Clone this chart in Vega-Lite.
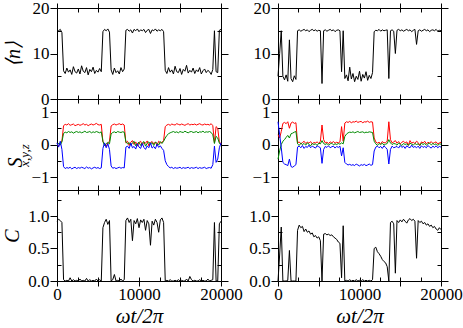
{
"$schema": "https://vega.github.io/schema/vega-lite/v6.json",
"padding": {"left": 1, "top": -2, "right": 0, "bottom": 0},
"config": {
  "font": "Liberation Serif",
  "view": {"stroke": "black", "strokeWidth": 1},
  "axis": {"grid": false, "domain": false, "labelFont": "Liberation Serif", "labelFontSize": 17, "labelColor": "black", "tickColor": "black", "tickWidth": 1, "titleFont": "Liberation Serif", "titleFontSize": 20, "titleFontWeight": "normal", "titleColor": "black", "labelOverlap": false, "labelFlush": false}
},
"datasets": {
"L": [
{"t":0,"n":15.2,"x":0.02,"y":-0.03,"z":0.05,"c":0.92},
{"t":200,"n":15.0,"x":-0.05,"y":0.04,"z":-0.08,"c":0.95},
{"t":400,"n":15.3,"x":0.06,"y":-0.02,"z":0.10,"c":0.93},
{"t":600,"n":14.6,"x":0.1,"y":0.08,"z":-0.15,"c":0.9},
{"t":800,"n":6.2,"x":0.58,"y":0.34,"z":-0.68,"c":0.02},
{"t":1000,"n":5.6,"x":0.62,"y":0.38,"z":-0.74,"c":0.0},
{"t":1200,"n":6.8,"x":0.6,"y":0.36,"z":-0.71,"c":0.01},
{"t":1400,"n":5.9,"x":0.64,"y":0.4,"z":-0.73,"c":0.0},
{"t":1600,"n":6.4,"x":0.59,"y":0.37,"z":-0.7,"c":0.05},
{"t":1800,"n":5.4,"x":0.61,"y":0.39,"z":-0.75,"c":0.0},
{"t":2000,"n":7.1,"x":0.63,"y":0.35,"z":-0.72,"c":0.02},
{"t":2200,"n":6.0,"x":0.58,"y":0.38,"z":-0.7,"c":0.0},
{"t":2400,"n":5.7,"x":0.6,"y":0.4,"z":-0.74,"c":0.01},
{"t":2600,"n":6.6,"x":0.62,"y":0.37,"z":-0.71,"c":0.0},
{"t":2800,"n":5.5,"x":0.59,"y":0.39,"z":-0.73,"c":0.03},
{"t":3000,"n":7.3,"x":0.61,"y":0.36,"z":-0.7,"c":0.0},
{"t":3200,"n":6.1,"x":0.64,"y":0.38,"z":-0.72,"c":0.01},
{"t":3400,"n":5.8,"x":0.6,"y":0.41,"z":-0.74,"c":0.0},
{"t":3600,"n":6.9,"x":0.62,"y":0.37,"z":-0.69,"c":0.04},
{"t":3800,"n":5.3,"x":0.58,"y":0.38,"z":-0.73,"c":0.0},
{"t":4000,"n":6.5,"x":0.61,"y":0.4,"z":-0.71,"c":0.02},
{"t":4200,"n":6.0,"x":0.63,"y":0.36,"z":-0.75,"c":0.0},
{"t":4400,"n":7.0,"x":0.6,"y":0.39,"z":-0.72,"c":0.01},
{"t":4600,"n":5.6,"x":0.62,"y":0.37,"z":-0.7,"c":0.0},
{"t":4800,"n":6.3,"x":0.65,"y":0.4,"z":-0.73,"c":0.03},
{"t":5000,"n":5.9,"x":0.61,"y":0.38,"z":-0.71,"c":0.0},
{"t":5200,"n":6.7,"x":0.6,"y":0.36,"z":-0.74,"c":0.02},
{"t":5400,"n":6.0,"x":0.62,"y":0.39,"z":-0.72,"c":0.0},
{"t":5600,"n":14.8,"x":0.08,"y":0.1,"z":-0.12,"c":0.82},
{"t":5800,"n":15.3,"x":0.02,"y":-0.04,"z":0.05,"c":0.9},
{"t":6000,"n":15.0,"x":-0.06,"y":0.03,"z":-0.1,"c":0.95},
{"t":6200,"n":15.4,"x":0.05,"y":0.06,"z":0.02,"c":0.87},
{"t":6400,"n":14.7,"x":0.1,"y":0.02,"z":-0.15,"c":0.93},
{"t":6600,"n":6.4,"x":0.57,"y":0.33,"z":-0.66,"c":0.0},
{"t":6800,"n":5.4,"x":0.61,"y":0.37,"z":-0.73,"c":0.02},
{"t":7000,"n":6.8,"x":0.63,"y":0.39,"z":-0.71,"c":0.1},
{"t":7200,"n":5.8,"x":0.6,"y":0.36,"z":-0.74,"c":0.0},
{"t":7400,"n":6.2,"x":0.62,"y":0.4,"z":-0.72,"c":0.01},
{"t":7600,"n":5.5,"x":0.64,"y":0.38,"z":-0.7,"c":0.0},
{"t":7800,"n":6.9,"x":0.61,"y":0.37,"z":-0.73,"c":0.03},
{"t":8000,"n":6.0,"x":0.63,"y":0.39,"z":-0.71,"c":0.0},
{"t":8200,"n":6.6,"x":0.6,"y":0.38,"z":-0.72,"c":0.02},
{"t":8400,"n":15.1,"x":0.05,"y":0.08,"z":-0.08,"c":0.93},
{"t":8600,"n":15.3,"x":0.1,"y":0.02,"z":-0.05,"c":0.97},
{"t":8800,"n":14.9,"x":-0.03,"y":0.06,"z":-0.12,"c":0.9},
{"t":9000,"n":15.2,"x":0.07,"y":-0.02,"z":0.04,"c":0.95},
{"t":9200,"n":14.5,"x":0.12,"y":0.05,"z":-0.1,"c":0.62},
{"t":9400,"n":15.3,"x":0.0,"y":0.1,"z":-0.06,"c":0.93},
{"t":9600,"n":15.0,"x":0.08,"y":-0.04,"z":-0.14,"c":0.88},
{"t":9800,"n":15.4,"x":-0.05,"y":0.03,"z":0.02,"c":0.96},
{"t":10000,"n":14.8,"x":0.06,"y":0.07,"z":-0.08,"c":0.82},
{"t":10200,"n":15.2,"x":0.1,"y":-0.03,"z":-0.12,"c":0.94},
{"t":10400,"n":15.0,"x":-0.02,"y":0.05,"z":0.03,"c":0.9},
{"t":10600,"n":15.3,"x":0.07,"y":0.09,"z":-0.09,"c":0.95},
{"t":10800,"n":14.6,"x":0.04,"y":-0.05,"z":-0.15,"c":0.78},
{"t":11000,"n":15.1,"x":0.11,"y":0.04,"z":-0.04,"c":0.93},
{"t":11200,"n":15.3,"x":-0.04,"y":0.08,"z":-0.1,"c":0.88},
{"t":11400,"n":14.4,"x":0.06,"y":0.01,"z":0.05,"c":0.55},
{"t":11600,"n":15.2,"x":0.09,"y":0.06,"z":-0.11,"c":0.92},
{"t":11800,"n":15.0,"x":0.02,"y":-0.03,"z":-0.06,"c":0.86},
{"t":12000,"n":15.4,"x":0.08,"y":0.07,"z":-0.13,"c":0.95},
{"t":12200,"n":14.9,"x":-0.03,"y":0.04,"z":0.01,"c":0.9},
{"t":12400,"n":15.2,"x":0.1,"y":-0.02,"z":-0.09,"c":0.75},
{"t":12600,"n":15.0,"x":0.05,"y":0.09,"z":-0.04,"c":0.94},
{"t":12800,"n":15.3,"x":0.07,"y":0.03,"z":-0.12,"c":0.97},
{"t":13000,"n":14.8,"x":0.12,"y":0.1,"z":-0.18,"c":0.9},
{"t":13200,"n":6.3,"x":0.55,"y":0.2,"z":-0.5,"c":0.0},
{"t":13400,"n":5.6,"x":0.6,"y":0.28,"z":-0.62,"c":0.01},
{"t":13600,"n":6.9,"x":0.62,"y":0.33,"z":-0.68,"c":0.0},
{"t":13800,"n":5.9,"x":0.59,"y":0.36,"z":-0.72,"c":0.02},
{"t":14000,"n":6.4,"x":0.63,"y":0.38,"z":-0.7,"c":0.0},
{"t":14200,"n":5.5,"x":0.61,"y":0.4,"z":-0.74,"c":0.0},
{"t":14400,"n":7.2,"x":0.6,"y":0.37,"z":-0.71,"c":0.01},
{"t":14600,"n":6.0,"x":0.64,"y":0.39,"z":-0.73,"c":0.0},
{"t":14800,"n":5.8,"x":0.62,"y":0.36,"z":-0.72,"c":0.02},
{"t":15000,"n":6.7,"x":0.6,"y":0.4,"z":-0.7,"c":0.0},
{"t":15200,"n":5.4,"x":0.63,"y":0.38,"z":-0.74,"c":0.01},
{"t":15400,"n":6.5,"x":0.61,"y":0.37,"z":-0.71,"c":0.0},
{"t":15600,"n":6.1,"x":0.59,"y":0.41,"z":-0.73,"c":0.0},
{"t":15800,"n":7.4,"x":0.62,"y":0.38,"z":-0.72,"c":0.03},
{"t":16000,"n":5.7,"x":0.64,"y":0.36,"z":-0.7,"c":0.0},
{"t":16200,"n":6.3,"x":0.6,"y":0.39,"z":-0.74,"c":0.07},
{"t":16400,"n":5.9,"x":0.62,"y":0.4,"z":-0.71,"c":0.02},
{"t":16600,"n":6.8,"x":0.61,"y":0.37,"z":-0.73,"c":0.0},
{"t":16800,"n":5.6,"x":0.63,"y":0.38,"z":-0.72,"c":0.01},
{"t":17000,"n":6.4,"x":0.6,"y":0.4,"z":-0.7,"c":0.0},
{"t":17200,"n":6.0,"x":0.62,"y":0.36,"z":-0.74,"c":0.0},
{"t":17400,"n":6.9,"x":0.64,"y":0.39,"z":-0.71,"c":0.02},
{"t":17600,"n":5.5,"x":0.61,"y":0.38,"z":-0.73,"c":0.0},
{"t":17800,"n":6.2,"x":0.6,"y":0.41,"z":-0.72,"c":0.01},
{"t":18000,"n":6.6,"x":0.63,"y":0.37,"z":-0.7,"c":0.0},
{"t":18200,"n":5.8,"x":0.61,"y":0.39,"z":-0.74,"c":0.0},
{"t":18400,"n":6.3,"x":0.62,"y":0.38,"z":-0.72,"c":0.03},
{"t":18600,"n":6.0,"x":0.6,"y":0.4,"z":-0.71,"c":0.0},
{"t":18800,"n":5.4,"x":0.64,"y":0.37,"z":-0.73,"c":0.01},
{"t":19000,"n":6.5,"x":0.58,"y":0.3,"z":-0.62,"c":0.02},
{"t":19200,"n":15.0,"x":0.05,"y":0.03,"z":-0.05,"c":0.9},
{"t":19400,"n":6.0,"x":0.55,"y":0.25,"z":-0.55,"c":0.0},
{"t":19600,"n":5.8,"x":0.5,"y":0.2,"z":-0.45,"c":0.0},
{"t":19800,"n":15.1,"x":0.08,"y":0.04,"z":-0.1,"c":0.88},
{"t":20000,"n":15.3,"x":0.02,"y":-0.02,"z":0.05,"c":0.92}
],
"R": [
{"t":0,"n":5.0,"x":0.3,"y":-0.45,"z":0.7,"c":0.0},
{"t":200,"n":10.0,"x":0.2,"y":-0.2,"z":0.3,"c":0.4},
{"t":400,"n":15.0,"x":0.4,"y":0.0,"z":-0.1,"c":0.83},
{"t":600,"n":5.0,"x":0.65,"y":0.1,"z":-0.55,"c":0.0},
{"t":800,"n":4.2,"x":0.68,"y":0.15,"z":-0.6,"c":0.0},
{"t":1000,"n":5.3,"x":0.64,"y":0.22,"z":-0.62,"c":0.0},
{"t":1200,"n":3.9,"x":0.7,"y":0.28,"z":-0.65,"c":0.01},
{"t":1400,"n":13.0,"x":0.5,"y":0.2,"z":-0.45,"c":0.47},
{"t":1600,"n":4.5,"x":0.66,"y":0.33,"z":-0.68,"c":0.0},
{"t":1800,"n":3.8,"x":0.69,"y":0.35,"z":-0.7,"c":0.0},
{"t":2000,"n":5.1,"x":0.65,"y":0.38,"z":-0.66,"c":0.0},
{"t":2200,"n":4.3,"x":0.67,"y":0.4,"z":-0.62,"c":0.0},
{"t":2400,"n":15.0,"x":0.05,"y":0.02,"z":-0.08,"c":0.78},
{"t":2600,"n":15.2,"x":0.08,"y":-0.03,"z":-0.05,"c":0.86},
{"t":2800,"n":14.9,"x":0.02,"y":0.04,"z":-0.1,"c":0.82},
{"t":3000,"n":15.1,"x":0.06,"y":0.0,"z":-0.03,"c":0.84},
{"t":3200,"n":15.3,"x":0.1,"y":0.03,"z":-0.12,"c":0.76},
{"t":3400,"n":15.0,"x":0.03,"y":-0.02,"z":-0.06,"c":0.8},
{"t":3600,"n":15.2,"x":0.07,"y":0.05,"z":-0.09,"c":0.75},
{"t":3800,"n":14.8,"x":0.04,"y":0.01,"z":-0.02,"c":0.77},
{"t":4000,"n":15.1,"x":0.09,"y":-0.04,"z":-0.1,"c":0.72},
{"t":4200,"n":15.3,"x":0.02,"y":0.03,"z":-0.05,"c":0.74},
{"t":4400,"n":15.0,"x":0.06,"y":0.0,"z":-0.08,"c":0.68},
{"t":4600,"n":15.2,"x":0.05,"y":0.02,"z":-0.11,"c":0.7},
{"t":4800,"n":14.9,"x":0.08,"y":-0.03,"z":-0.04,"c":0.66},
{"t":5000,"n":15.1,"x":0.03,"y":0.04,"z":-0.07,"c":0.68},
{"t":5200,"n":15.0,"x":0.1,"y":0.02,"z":-0.1,"c":0.62},
{"t":5400,"n":3.4,"x":0.6,"y":0.12,"z":-0.58,"c":0.0},
{"t":5600,"n":15.0,"x":0.15,"y":0.03,"z":-0.15,"c":0.72},
{"t":5800,"n":15.2,"x":0.05,"y":0.0,"z":-0.06,"c":0.73},
{"t":6000,"n":14.9,"x":0.07,"y":0.03,"z":-0.09,"c":0.71},
{"t":6200,"n":15.1,"x":0.03,"y":-0.02,"z":-0.04,"c":0.72},
{"t":6400,"n":15.3,"x":0.08,"y":0.02,"z":-0.1,"c":0.7},
{"t":6600,"n":15.0,"x":0.05,"y":0.04,"z":-0.07,"c":0.71},
{"t":6800,"n":15.2,"x":0.09,"y":-0.01,"z":-0.05,"c":0.68},
{"t":7000,"n":14.8,"x":0.04,"y":0.02,"z":-0.11,"c":0.66},
{"t":7200,"n":15.1,"x":0.07,"y":0.0,"z":-0.06,"c":0.64},
{"t":7400,"n":15.2,"x":0.05,"y":0.03,"z":-0.09,"c":0.6},
{"t":7600,"n":15.0,"x":0.08,"y":0.01,"z":-0.05,"c":0.58},
{"t":7800,"n":6.0,"x":0.55,"y":0.05,"z":-0.35,"c":0.05},
{"t":8000,"n":15.0,"x":0.1,"y":0.02,"z":-0.1,"c":0.85},
{"t":8200,"n":4.5,"x":0.66,"y":0.25,"z":-0.55,"c":0.0},
{"t":8400,"n":5.3,"x":0.7,"y":0.32,"z":-0.6,"c":0.01},
{"t":8600,"n":4.0,"x":0.68,"y":0.36,"z":-0.63,"c":0.0},
{"t":8800,"n":7.0,"x":0.71,"y":0.38,"z":-0.61,"c":0.02},
{"t":9000,"n":4.4,"x":0.67,"y":0.37,"z":-0.64,"c":0.0},
{"t":9200,"n":5.6,"x":0.7,"y":0.39,"z":-0.62,"c":0.01},
{"t":9400,"n":3.8,"x":0.69,"y":0.36,"z":-0.65,"c":0.0},
{"t":9600,"n":5.0,"x":0.72,"y":0.38,"z":-0.6,"c":0.02},
{"t":9800,"n":4.3,"x":0.68,"y":0.4,"z":-0.63,"c":0.0},
{"t":10000,"n":6.1,"x":0.7,"y":0.37,"z":-0.66,"c":0.01},
{"t":10200,"n":3.9,"x":0.71,"y":0.38,"z":-0.62,"c":0.0},
{"t":10400,"n":5.4,"x":0.67,"y":0.39,"z":-0.64,"c":0.02},
{"t":10600,"n":4.6,"x":0.7,"y":0.36,"z":-0.61,"c":0.0},
{"t":10800,"n":6.0,"x":0.69,"y":0.38,"z":-0.65,"c":0.01},
{"t":11000,"n":4.1,"x":0.72,"y":0.37,"z":-0.63,"c":0.0},
{"t":11200,"n":5.2,"x":0.68,"y":0.39,"z":-0.6,"c":0.01},
{"t":11400,"n":4.5,"x":0.7,"y":0.38,"z":-0.64,"c":0.0},
{"t":11600,"n":5.8,"x":0.69,"y":0.37,"z":-0.62,"c":0.02},
{"t":11800,"n":14.8,"x":0.2,"y":0.1,"z":-0.2,"c":0.5},
{"t":12000,"n":15.1,"x":0.08,"y":0.02,"z":-0.08,"c":0.52},
{"t":12200,"n":15.0,"x":0.04,"y":-0.03,"z":-0.05,"c":0.45},
{"t":12400,"n":15.3,"x":0.07,"y":0.03,"z":-0.1,"c":0.42},
{"t":12600,"n":14.9,"x":0.02,"y":0.0,"z":-0.06,"c":0.38},
{"t":12800,"n":15.2,"x":0.09,"y":0.04,"z":-0.12,"c":0.33},
{"t":13000,"n":15.0,"x":0.05,"y":-0.02,"z":-0.04,"c":0.3},
{"t":13200,"n":15.1,"x":0.06,"y":0.01,"z":-0.09,"c":0.28},
{"t":13400,"n":15.2,"x":0.1,"y":0.03,"z":-0.15,"c":0.22},
{"t":13600,"n":4.5,"x":0.7,"y":0.15,"z":-0.6,"c":0.0},
{"t":13800,"n":15.0,"x":0.15,"y":0.05,"z":-0.15,"c":0.9},
{"t":14000,"n":15.2,"x":0.05,"y":0.0,"z":-0.05,"c":0.92},
{"t":14200,"n":14.9,"x":0.08,"y":0.03,"z":-0.1,"c":0.88},
{"t":14400,"n":10.0,"x":0.12,"y":0.02,"z":-0.08,"c":0.12},
{"t":14600,"n":15.1,"x":0.04,"y":-0.02,"z":-0.06,"c":0.93},
{"t":14800,"n":15.3,"x":0.09,"y":0.04,"z":-0.11,"c":0.9},
{"t":15000,"n":15.0,"x":0.02,"y":0.01,"z":-0.03,"c":0.94},
{"t":15200,"n":15.2,"x":0.07,"y":-0.03,"z":-0.09,"c":0.91},
{"t":15400,"n":14.9,"x":0.1,"y":0.03,"z":-0.05,"c":0.95},
{"t":15600,"n":15.1,"x":0.05,"y":0.0,"z":-0.12,"c":0.92},
{"t":15800,"n":15.3,"x":0.08,"y":0.02,"z":-0.04,"c":0.89},
{"t":16000,"n":15.0,"x":-0.02,"y":-0.03,"z":-0.08,"c":0.94},
{"t":16200,"n":15.2,"x":0.12,"y":0.04,"z":-0.1,"c":0.96},
{"t":16400,"n":14.8,"x":0.04,"y":0.01,"z":-0.02,"c":0.93},
{"t":16600,"n":15.1,"x":0.07,"y":-0.02,"z":-0.09,"c":0.95},
{"t":16800,"n":15.3,"x":0.03,"y":0.03,"z":-0.06,"c":0.92},
{"t":17000,"n":12.0,"x":0.1,"y":0.0,"z":-0.1,"c":0.35},
{"t":17200,"n":15.0,"x":0.06,"y":0.02,"z":-0.05,"c":0.93},
{"t":17400,"n":15.2,"x":-0.03,"y":-0.03,"z":-0.12,"c":0.9},
{"t":17600,"n":14.9,"x":0.08,"y":0.04,"z":-0.04,"c":0.92},
{"t":17800,"n":15.1,"x":0.05,"y":0.0,"z":-0.09,"c":0.88},
{"t":18000,"n":15.3,"x":0.1,"y":0.03,"z":-0.06,"c":0.9},
{"t":18200,"n":15.0,"x":0.02,"y":-0.02,"z":-0.1,"c":0.86},
{"t":18400,"n":15.2,"x":0.07,"y":0.02,"z":-0.03,"c":0.88},
{"t":18600,"n":14.8,"x":0.04,"y":0.04,"z":-0.08,"c":0.84},
{"t":18800,"n":15.1,"x":0.09,"y":-0.01,"z":-0.11,"c":0.86},
{"t":19000,"n":15.2,"x":0.03,"y":0.03,"z":-0.05,"c":0.82},
{"t":19200,"n":15.0,"x":0.06,"y":0.0,"z":-0.09,"c":0.84},
{"t":19400,"n":15.3,"x":0.08,"y":0.02,"z":-0.04,"c":0.8},
{"t":19600,"n":14.9,"x":0.02,"y":-0.03,"z":-0.1,"c":0.78},
{"t":19800,"n":15.1,"x":0.05,"y":0.02,"z":-0.06,"c":0.82},
{"t":20000,"n":15.0,"x":0.07,"y":0.01,"z":-0.08,"c":0.79}
]
},
"spacing": 5,
"hconcat": [
{
"vconcat": [
{
"width": 164, "height": 91, "data": {"name": "L"},
"layer": [
{"mark": {"type": "line", "color": "black", "strokeWidth": 1},
 "encoding": {
  "x": {"field": "t", "type": "quantitative", "scale": {"domain": [0, 20000], "nice": false, "zero": false}, "axis": {"orient": "bottom", "values": [0,5000,10000,15000,20000], "tickSize": 5, "labels": false, "title": null}},
  "y": {"field": "n", "type": "quantitative", "scale": {"domain": [0, 20], "nice": false, "zero": false}, "axis": {"orient": "left", "values": [0,10,20], "tickSize": 7, "labelPadding": 1, "title": "⟨n⟩", "titleFontStyle": "italic", "titleX": -44, "titleY": 45.5, "titleAngle": 270, "titleAlign": "center", "titleBaseline": "middle"}}}},
{"mark": {"type": "line", "opacity": 0},
 "encoding": {
  "x": {"field": "t", "type": "quantitative", "axis": {"orient": "bottom", "values": [2500,5000,7500,10000,12500,15000,17500], "tickSize": 4, "offset": -4, "labels": false, "title": null}},
  "y": {"field": "n", "type": "quantitative", "axis": {"orient": "left", "values": [5,15], "tickSize": 4, "offset": -4, "labels": false, "title": null}}}},
{"mark": {"type": "line", "opacity": 0},
 "encoding": {
  "x": {"field": "t", "type": "quantitative", "axis": {"orient": "top", "values": [0,5000,10000,15000,20000], "tickSize": 5, "labels": false, "title": null}},
  "y": {"field": "n", "type": "quantitative", "axis": {"orient": "right", "values": [0,10,20], "tickSize": 7, "labels": false, "title": null}}}},
{"mark": {"type": "line", "opacity": 0},
 "encoding": {
  "x": {"field": "t", "type": "quantitative", "axis": {"orient": "top", "values": [2500,5000,7500,10000,12500,15000,17500], "tickSize": 4, "offset": -4, "labels": false, "title": null}},
  "y": {"field": "n", "type": "quantitative", "axis": {"orient": "right", "values": [5,15], "tickSize": 4, "offset": -4, "labels": false, "title": null}}}}
],
"resolve": {"axis": {"x": "independent", "y": "independent"}}
},
{
"width": 164, "height": 91, "data": {"name": "L"},
"layer": [
{"transform": [{"fold": ["x", "y", "z"], "as": ["comp", "val"]}],
 "mark": {"type": "line", "strokeWidth": 1},
 "encoding": {
  "x": {"field": "t", "type": "quantitative", "scale": {"domain": [0, 20000], "nice": false, "zero": false}, "axis": {"orient": "bottom", "values": [0,5000,10000,15000,20000], "tickSize": 5, "labels": false, "title": null}},
  "y": {"field": "val", "type": "quantitative", "scale": {"domain": [-1.4, 1.4], "nice": false, "zero": false}, "axis": {"orient": "left", "values": [-1,0,1], "tickSize": 7, "labelPadding": 1, "title": "S", "titleFontStyle": "italic", "titleX": -42, "titleY": 63, "titleAngle": 270, "titleAlign": "center", "titleBaseline": "middle"}},
  "color": {"field": "comp", "type": "nominal", "scale": {"domain": ["x", "y", "z"], "range": ["#ff0000", "#008a00", "#0000ff"]}, "legend": null}}},
{"mark": {"type": "line", "opacity": 0},
 "encoding": {
  "x": {"field": "t", "type": "quantitative", "axis": {"orient": "bottom", "values": [2500,5000,7500,10000,12500,15000,17500], "tickSize": 4, "offset": -4, "labels": false, "title": null}},
  "y": {"field": "x", "type": "quantitative", "axis": {"orient": "left", "values": [-0.5,0.5], "tickSize": 4, "offset": -4, "labels": false, "title": "x,y,z", "titleFontStyle": "italic", "titleFontSize": 13, "titleX": -37, "titleY": 56, "titleAngle": 270, "titleAlign": "center", "titleBaseline": "middle"}}}},
{"mark": {"type": "line", "opacity": 0},
 "encoding": {
  "x": {"field": "t", "type": "quantitative", "axis": {"orient": "top", "values": [0,5000,10000,15000,20000], "tickSize": 5, "labels": false, "title": null}},
  "y": {"field": "x", "type": "quantitative", "axis": {"orient": "right", "values": [-1,0,1], "tickSize": 7, "labels": false, "title": null}}}},
{"mark": {"type": "line", "opacity": 0},
 "encoding": {
  "x": {"field": "t", "type": "quantitative", "axis": {"orient": "top", "values": [2500,5000,7500,10000,12500,15000,17500], "tickSize": 4, "offset": -4, "labels": false, "title": null}},
  "y": {"field": "x", "type": "quantitative", "axis": {"orient": "right", "values": [-0.5,0.5], "tickSize": 4, "offset": -4, "labels": false, "title": null}}}}
],
"resolve": {"axis": {"x": "independent", "y": "independent"}}
},
{
"width": 164, "height": 91, "data": {"name": "L"},
"layer": [
{"mark": {"type": "line", "color": "black", "strokeWidth": 1},
 "encoding": {
  "x": {"field": "t", "type": "quantitative", "scale": {"domain": [0, 20000], "nice": false, "zero": false}, "axis": {"orient": "bottom", "values": [0,5000,10000,15000,20000], "tickSize": 5, "format": "d", "labelPadding": 0, "labelExpr": "datum.value % 10000 === 0 ? datum.label : ''", "title": "ωt/2π", "titleFontStyle": "italic", "titleFontSize": 21, "titlePadding": 3}},
  "y": {"field": "c", "type": "quantitative", "scale": {"domain": [0, 1.4], "nice": false, "zero": false}, "axis": {"orient": "left", "values": [0,0.5,1], "format": ".1f", "tickSize": 7, "labelPadding": 1, "title": "C", "titleFontStyle": "italic", "titleX": -45, "titleY": 45.5, "titleAngle": 270, "titleAlign": "center", "titleBaseline": "middle"}}}},
{"mark": {"type": "line", "opacity": 0},
 "encoding": {
  "x": {"field": "t", "type": "quantitative", "axis": {"orient": "bottom", "values": [2500,5000,7500,10000,12500,15000,17500], "tickSize": 4, "offset": -4, "labels": false, "title": null}},
  "y": {"field": "c", "type": "quantitative", "axis": {"orient": "left", "values": [0.25,0.75,1.25], "tickSize": 4, "offset": -4, "labels": false, "title": null}}}},
{"mark": {"type": "line", "opacity": 0},
 "encoding": {
  "x": {"field": "t", "type": "quantitative", "axis": {"orient": "top", "values": [0,5000,10000,15000,20000], "tickSize": 5, "labels": false, "title": null}},
  "y": {"field": "c", "type": "quantitative", "axis": {"orient": "right", "values": [0,0.5,1], "tickSize": 7, "labels": false, "title": null}}}},
{"mark": {"type": "line", "opacity": 0},
 "encoding": {
  "x": {"field": "t", "type": "quantitative", "axis": {"orient": "top", "values": [2500,5000,7500,10000,12500,15000,17500], "tickSize": 4, "offset": -4, "labels": false, "title": null}},
  "y": {"field": "c", "type": "quantitative", "axis": {"orient": "right", "values": [0.25,0.75,1.25], "tickSize": 4, "offset": -4, "labels": false, "title": null}}}}
],
"resolve": {"axis": {"x": "independent", "y": "independent"}}
}
],
"spacing": 0, "bounds": "flush",
"resolve": {"scale": {"x": "independent", "y": "independent"}}
},
{
"vconcat": [
{
"width": 163, "height": 91, "data": {"name": "R"},
"layer": [
{"mark": {"type": "line", "color": "black", "strokeWidth": 1},
 "encoding": {
  "x": {"field": "t", "type": "quantitative", "scale": {"domain": [0, 20000], "nice": false, "zero": false}, "axis": {"orient": "bottom", "values": [0,5000,10000,15000,20000], "tickSize": 5, "labels": false, "title": null}},
  "y": {"field": "n", "type": "quantitative", "scale": {"domain": [0, 20], "nice": false, "zero": false}, "axis": {"orient": "left", "values": [0,10,20], "tickSize": 7, "labelPadding": 1, "title": null}}}},
{"mark": {"type": "line", "opacity": 0},
 "encoding": {
  "x": {"field": "t", "type": "quantitative", "axis": {"orient": "bottom", "values": [2500,5000,7500,10000,12500,15000,17500], "tickSize": 4, "offset": -4, "labels": false, "title": null}},
  "y": {"field": "n", "type": "quantitative", "axis": {"orient": "left", "values": [5,15], "tickSize": 4, "offset": -4, "labels": false, "title": null}}}},
{"mark": {"type": "line", "opacity": 0},
 "encoding": {
  "x": {"field": "t", "type": "quantitative", "axis": {"orient": "top", "values": [0,5000,10000,15000,20000], "tickSize": 5, "labels": false, "title": null}},
  "y": {"field": "n", "type": "quantitative", "axis": {"orient": "right", "values": [0,10,20], "tickSize": 7, "labels": false, "title": null}}}},
{"mark": {"type": "line", "opacity": 0},
 "encoding": {
  "x": {"field": "t", "type": "quantitative", "axis": {"orient": "top", "values": [2500,5000,7500,10000,12500,15000,17500], "tickSize": 4, "offset": -4, "labels": false, "title": null}},
  "y": {"field": "n", "type": "quantitative", "axis": {"orient": "right", "values": [5,15], "tickSize": 4, "offset": -4, "labels": false, "title": null}}}}
],
"resolve": {"axis": {"x": "independent", "y": "independent"}}
},
{
"width": 163, "height": 91, "data": {"name": "R"},
"layer": [
{"transform": [{"fold": ["x", "y", "z"], "as": ["comp", "val"]}],
 "mark": {"type": "line", "strokeWidth": 1},
 "encoding": {
  "x": {"field": "t", "type": "quantitative", "scale": {"domain": [0, 20000], "nice": false, "zero": false}, "axis": {"orient": "bottom", "values": [0,5000,10000,15000,20000], "tickSize": 5, "labels": false, "title": null}},
  "y": {"field": "val", "type": "quantitative", "scale": {"domain": [-1.4, 1.4], "nice": false, "zero": false}, "axis": {"orient": "left", "values": [-1,0,1], "tickSize": 7, "labelPadding": 1, "title": null}},
  "color": {"field": "comp", "type": "nominal", "scale": {"domain": ["x", "y", "z"], "range": ["#ff0000", "#008a00", "#0000ff"]}, "legend": null}}},
{"mark": {"type": "line", "opacity": 0},
 "encoding": {
  "x": {"field": "t", "type": "quantitative", "axis": {"orient": "bottom", "values": [2500,5000,7500,10000,12500,15000,17500], "tickSize": 4, "offset": -4, "labels": false, "title": null}},
  "y": {"field": "x", "type": "quantitative", "axis": {"orient": "left", "values": [-0.5,0.5], "tickSize": 4, "offset": -4, "labels": false, "title": null}}}},
{"mark": {"type": "line", "opacity": 0},
 "encoding": {
  "x": {"field": "t", "type": "quantitative", "axis": {"orient": "top", "values": [0,5000,10000,15000,20000], "tickSize": 5, "labels": false, "title": null}},
  "y": {"field": "x", "type": "quantitative", "axis": {"orient": "right", "values": [-1,0,1], "tickSize": 7, "labels": false, "title": null}}}},
{"mark": {"type": "line", "opacity": 0},
 "encoding": {
  "x": {"field": "t", "type": "quantitative", "axis": {"orient": "top", "values": [2500,5000,7500,10000,12500,15000,17500], "tickSize": 4, "offset": -4, "labels": false, "title": null}},
  "y": {"field": "x", "type": "quantitative", "axis": {"orient": "right", "values": [-0.5,0.5], "tickSize": 4, "offset": -4, "labels": false, "title": null}}}}
],
"resolve": {"axis": {"x": "independent", "y": "independent"}}
},
{
"width": 163, "height": 91, "data": {"name": "R"},
"layer": [
{"mark": {"type": "line", "color": "black", "strokeWidth": 1},
 "encoding": {
  "x": {"field": "t", "type": "quantitative", "scale": {"domain": [0, 20000], "nice": false, "zero": false}, "axis": {"orient": "bottom", "values": [0,5000,10000,15000,20000], "tickSize": 5, "format": "d", "labelPadding": 0, "labelExpr": "datum.value % 10000 === 0 ? datum.label : ''", "title": "ωt/2π", "titleFontStyle": "italic", "titleFontSize": 21, "titlePadding": 3}},
  "y": {"field": "c", "type": "quantitative", "scale": {"domain": [0, 1.4], "nice": false, "zero": false}, "axis": {"orient": "left", "values": [0,0.5,1], "format": ".1f", "tickSize": 7, "labelPadding": 1, "title": null}}}},
{"mark": {"type": "line", "opacity": 0},
 "encoding": {
  "x": {"field": "t", "type": "quantitative", "axis": {"orient": "bottom", "values": [2500,5000,7500,10000,12500,15000,17500], "tickSize": 4, "offset": -4, "labels": false, "title": null}},
  "y": {"field": "c", "type": "quantitative", "axis": {"orient": "left", "values": [0.25,0.75,1.25], "tickSize": 4, "offset": -4, "labels": false, "title": null}}}},
{"mark": {"type": "line", "opacity": 0},
 "encoding": {
  "x": {"field": "t", "type": "quantitative", "axis": {"orient": "top", "values": [0,5000,10000,15000,20000], "tickSize": 5, "labels": false, "title": null}},
  "y": {"field": "c", "type": "quantitative", "axis": {"orient": "right", "values": [0,0.5,1], "tickSize": 7, "labels": false, "title": null}}}},
{"mark": {"type": "line", "opacity": 0},
 "encoding": {
  "x": {"field": "t", "type": "quantitative", "axis": {"orient": "top", "values": [2500,5000,7500,10000,12500,15000,17500], "tickSize": 4, "offset": -4, "labels": false, "title": null}},
  "y": {"field": "c", "type": "quantitative", "axis": {"orient": "right", "values": [0.25,0.75,1.25], "tickSize": 4, "offset": -4, "labels": false, "title": null}}}}
],
"resolve": {"axis": {"x": "independent", "y": "independent"}}
}
],
"spacing": 0, "bounds": "flush",
"resolve": {"scale": {"x": "independent", "y": "independent"}}
}
]
}
